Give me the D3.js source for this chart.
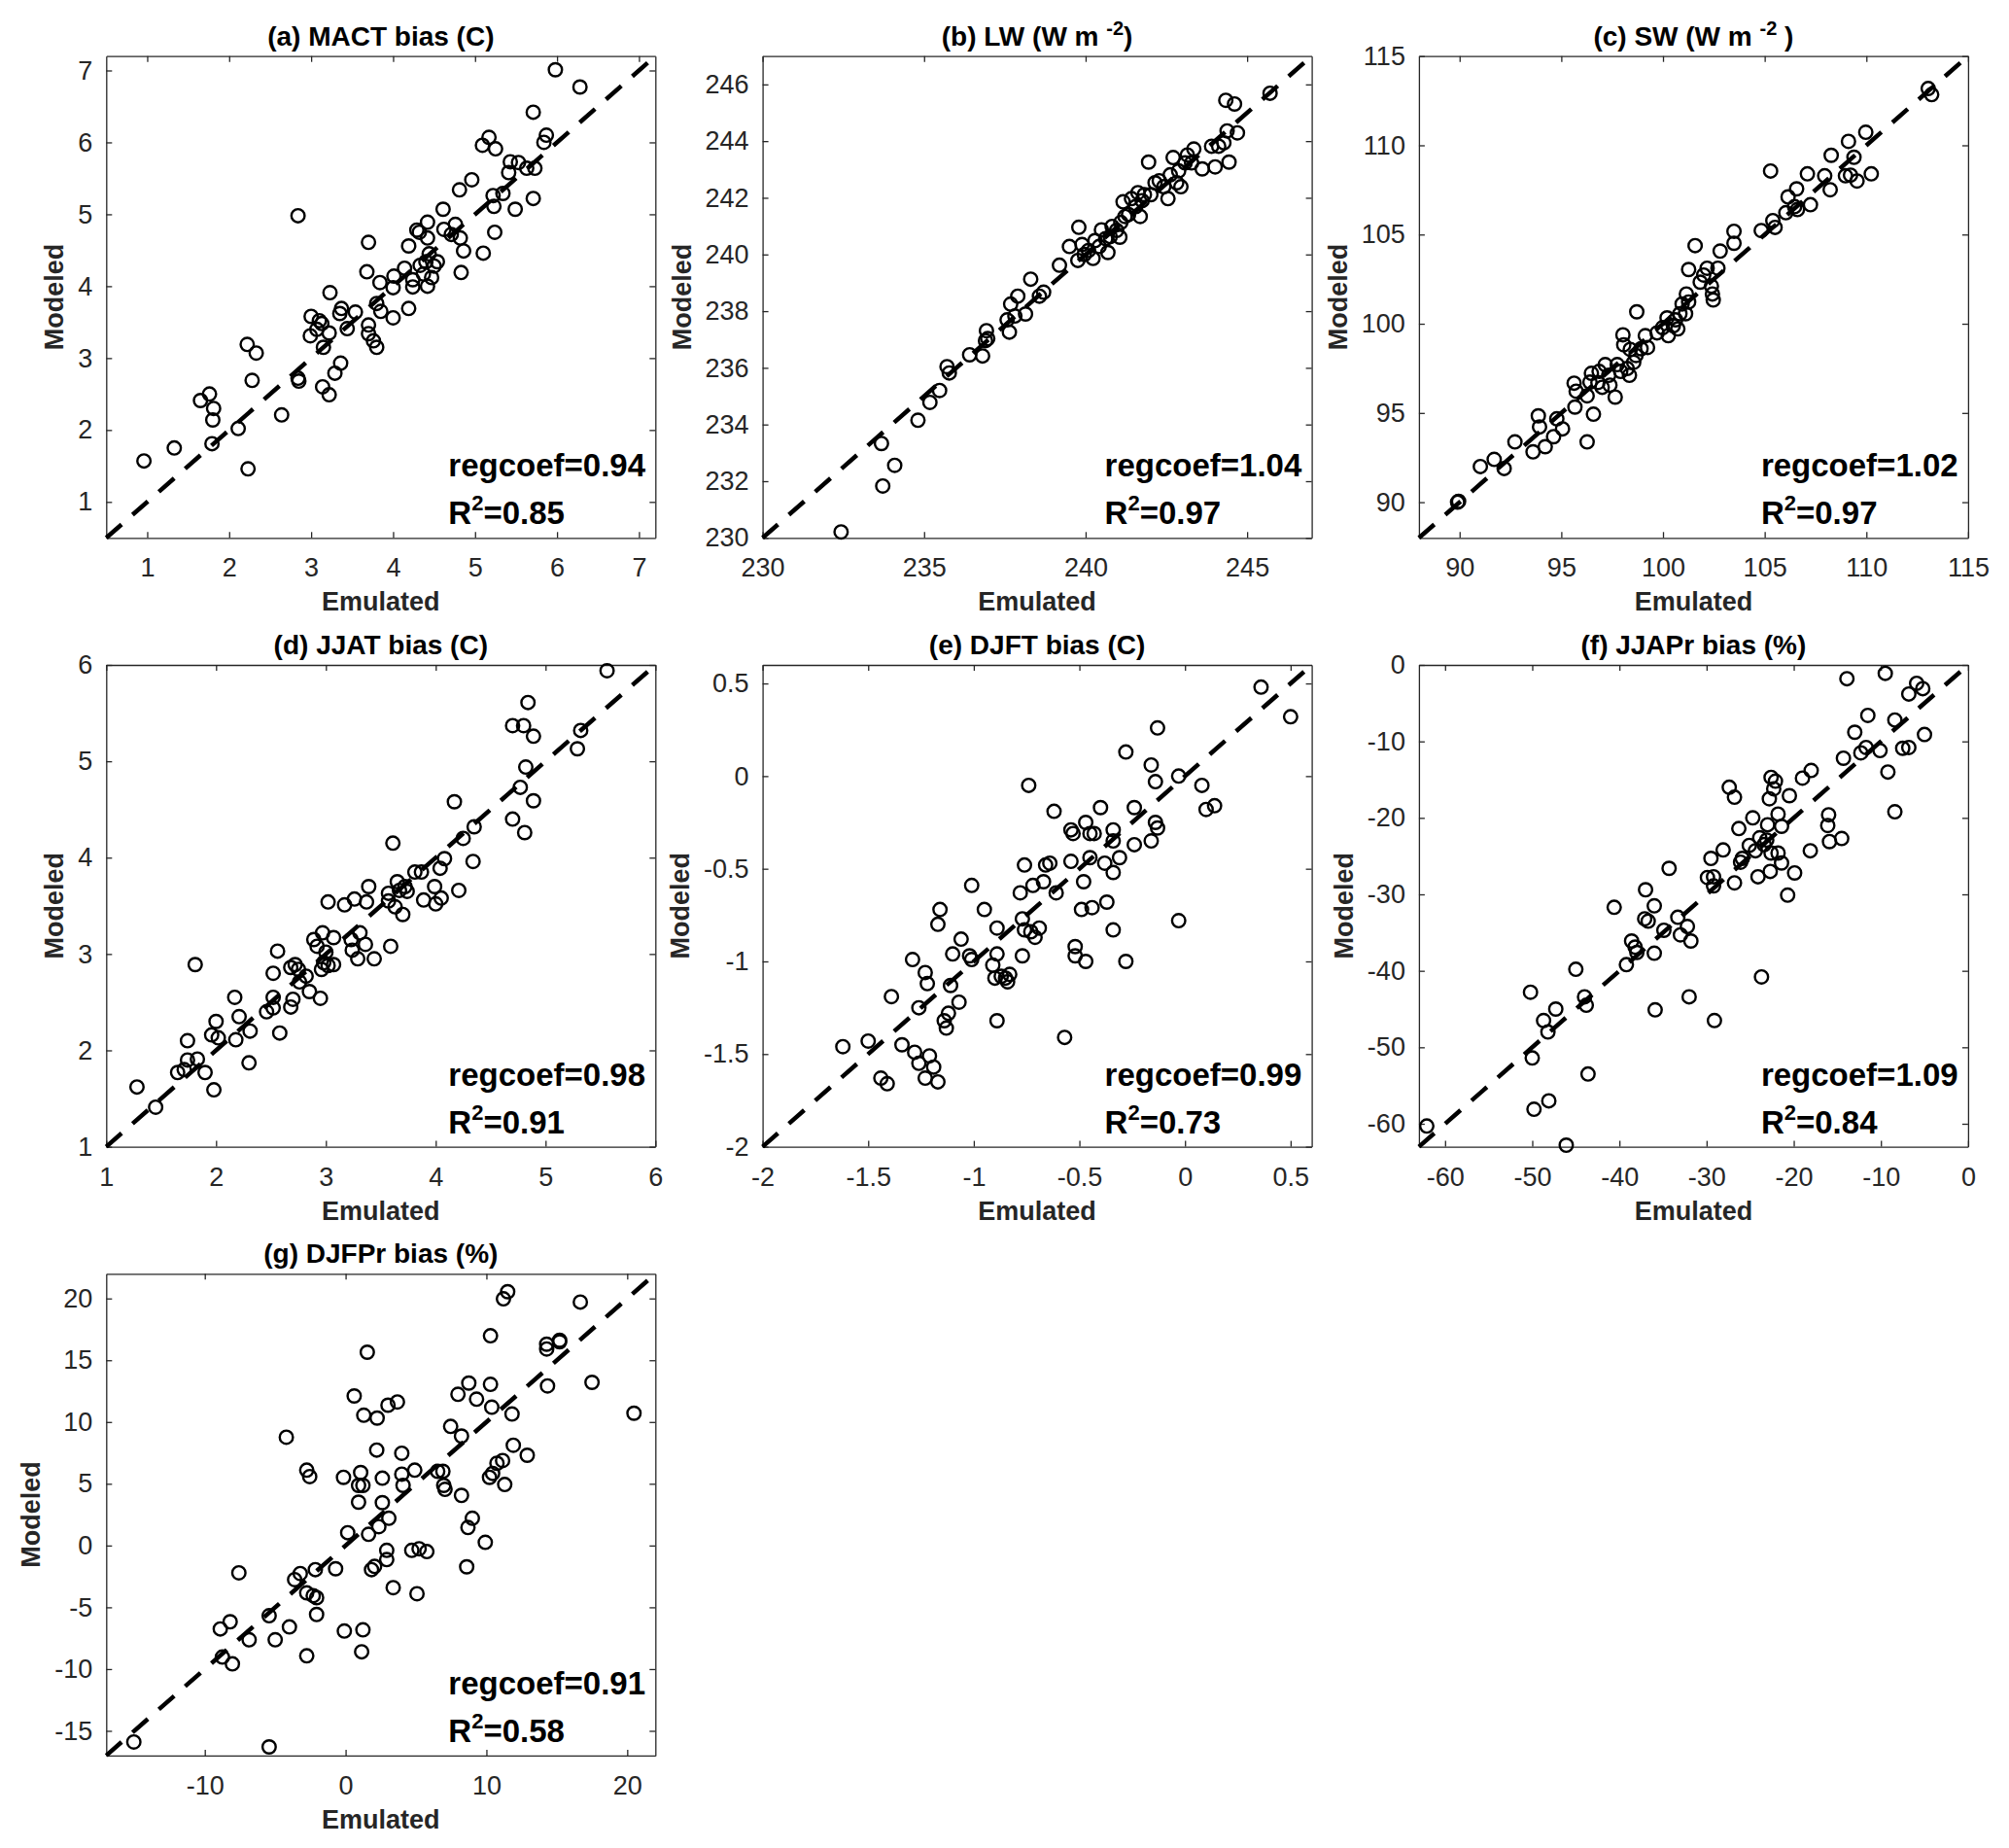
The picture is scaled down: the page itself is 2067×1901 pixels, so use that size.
<!DOCTYPE html>
<html>
<head>
<meta charset="utf-8">
<script src="https://cdn.jsdelivr.net/npm/d3@7"></script>
<style>
body { margin: 0; background: #fff; }
svg { display: block; font-family: "Liberation Sans", Arial, sans-serif; }
</style>
</head>
<body>
<svg id="fig" width="2067" height="1901"></svg>
<script>
// [emulated, modeled] pairs
var macts = [[0.96,1.57],[1.33,1.75],[1.65,2.41],[1.76,2.50],[1.81,2.30],[1.80,2.14],[1.79,1.81],[2.11,2.02],[2.23,1.46],[2.22,3.19],[2.33,3.07],[2.28,2.69],[2.64,2.21],[2.84,2.72],[2.85,2.68],[2.84,4.98],[3.00,3.58],[2.99,3.31],[3.10,3.52],[3.13,3.48],[3.07,3.40],[3.15,3.15],[3.22,3.35],[3.14,2.60],[3.22,2.49],[3.29,2.79],[3.36,2.93],[3.23,3.91],[3.37,3.69],[3.35,3.62],[3.54,3.64],[3.44,3.41],[3.70,4.61],[3.68,4.20],[3.70,3.46],[3.70,3.34],[3.76,3.24],[3.80,3.15],[3.80,3.76],[3.85,3.65],[3.84,4.05],[4.00,3.98],[4.00,3.56],[4.01,4.14],[4.19,4.56],[4.19,3.69],[4.14,4.25],[4.24,4.09],[4.24,3.99],[4.32,4.75],[4.29,4.78],[4.33,4.29],[4.40,4.34],[4.42,4.89],[4.42,4.67],[4.44,4.45],[4.37,4.17],[4.42,4.00],[4.50,4.28],[4.47,4.12],[4.54,4.34],[4.61,5.07],[4.62,4.79],[4.71,4.72],[4.76,4.86],[4.81,5.34],[4.82,4.67],[4.86,4.49],[4.83,4.19],[5.10,4.46],[4.96,5.48],[5.09,5.96],[5.17,6.07],[5.25,5.91],[5.22,5.26],[5.23,5.11],[5.24,4.75],[5.34,5.29],[5.41,5.58],[5.43,5.73],[5.53,5.72],[5.49,5.07],[5.63,5.64],[5.71,6.42],[5.73,5.64],[5.71,5.22],[5.84,6.00],[5.87,6.10],[5.98,7.01],[6.28,6.77]];

var lw = [[232.43,230.21],[233.68,233.33],[233.72,231.83],[234.09,232.56],[234.81,234.15],[235.18,234.78],[235.48,235.20],[235.71,236.04],[235.78,235.82],[236.41,236.46],[236.81,236.42],[236.93,237.31],[236.90,236.96],[236.97,237.03],[237.57,237.69],[237.64,237.26],[237.68,238.25],[237.90,238.53],[237.81,237.83],[238.14,237.90],[238.30,239.13],[238.57,238.53],[238.70,238.67],[239.19,239.62],[239.50,240.28],[239.79,240.96],[239.76,239.79],[239.89,240.35],[239.96,240.00],[240.09,240.14],[240.23,239.86],[240.29,240.49],[240.42,240.28],[240.49,240.87],[240.62,240.56],[240.69,240.07],[240.76,240.63],[240.82,240.99],[240.96,240.85],[241.06,240.61],[241.09,241.13],[241.16,241.86],[241.22,241.34],[241.33,241.41],[241.42,241.97],[241.55,241.69],[241.69,241.34],[241.75,241.90],[241.82,242.11],[241.95,243.26],[242.02,242.11],[241.62,242.18],[242.15,242.53],[242.28,242.60],[242.42,242.39],[242.55,241.97],[242.62,242.81],[242.71,243.42],[242.82,242.53],[242.88,242.95],[242.95,242.39],[243.08,243.23],[243.15,243.51],[243.35,243.72],[243.28,243.23],[243.61,243.02],[243.90,243.82],[244.01,243.09],[244.12,243.82],[244.28,243.94],[244.38,244.36],[244.44,243.26],[244.34,245.44],[244.61,245.31],[244.70,244.29],[245.71,245.69]];

var sw = [[89.9,90.0],[89.95,90.05],[91.02,92.0],[91.70,92.4],[92.19,91.89],[92.72,93.38],[93.61,92.82],[93.87,94.84],[93.93,94.22],[94.21,93.11],[94.62,93.67],[94.78,94.67],[95.06,94.11],[95.63,96.67],[95.67,95.33],[95.73,96.22],[96.27,93.38],[96.27,95.96],[96.41,96.73],[96.48,97.22],[96.58,94.93],[96.80,96.71],[96.86,97.33],[97.01,96.44],[97.16,97.71],[97.33,97.11],[97.39,96.56],[97.65,95.89],[97.75,97.71],[97.92,97.33],[98.03,99.38],[98.07,98.82],[98.24,97.49],[98.35,97.11],[98.39,98.56],[98.56,97.84],[98.67,98.22],[98.71,100.67],[98.92,98.60],[99.13,99.33],[99.24,98.67],[99.71,99.49],[99.98,99.78],[100.20,100.33],[100.26,99.33],[100.51,99.89],[100.62,100.22],[100.73,99.71],[100.83,100.56],[100.94,101.11],[101.11,100.56],[101.15,101.67],[101.26,101.22],[101.26,103.04],[101.58,104.38],[101.83,102.33],[102.00,102.73],[102.17,103.11],[102.38,102.11],[102.43,101.67],[102.47,101.33],[102.70,103.11],[102.81,104.07],[103.49,104.51],[103.49,105.18],[104.83,105.22],[105.29,108.56],[105.40,105.78],[105.51,105.40],[106.04,106.22],[106.15,107.11],[106.47,106.56],[106.57,107.56],[106.61,106.40],[107.10,108.40],[107.25,106.67],[107.95,108.29],[108.22,107.51],[108.27,109.44],[108.97,108.29],[109.12,110.22],[109.22,108.33],[109.39,109.33],[109.54,108.00],[109.97,110.73],[110.24,108.40],[113.04,113.18],[113.21,112.84]];

var jjat = [[1.28,1.62],[1.45,1.41],[1.65,1.77],[1.71,1.80],[1.74,1.90],[1.74,2.10],[1.83,1.91],[1.81,2.89],[1.90,1.77],[1.96,2.16],[1.98,1.59],[2.00,2.30],[2.02,2.13],[2.17,2.55],[2.18,2.11],[2.21,2.35],[2.30,1.87],[2.31,2.20],[2.46,2.40],[2.52,2.44],[2.52,2.55],[2.52,2.80],[2.56,3.03],[2.58,2.18],[2.68,2.45],[2.70,2.53],[2.68,2.86],[2.72,2.89],[2.75,2.84],[2.76,2.71],[2.82,2.77],[2.85,2.61],[2.89,3.15],[2.92,3.08],[2.95,2.54],[2.96,2.84],[2.97,3.22],[2.98,2.91],[3.00,3.02],[3.02,3.54],[3.02,2.88],[3.07,2.89],[3.07,3.17],[3.17,3.51],[3.23,3.15],[3.24,3.04],[3.26,3.57],[3.29,2.95],[3.31,3.22],[3.36,3.10],[3.37,3.54],[3.39,3.70],[3.44,2.95],[3.57,3.63],[3.57,3.55],[3.59,3.08],[3.61,4.15],[3.63,3.49],[3.65,3.75],[3.70,3.41],[3.67,3.66],[3.72,3.70],[3.74,3.65],[3.81,3.85],[3.87,3.85],[3.89,3.56],[3.99,3.70],[4.00,3.52],[4.05,3.58],[4.04,3.89],[4.08,3.99],[4.21,3.66],[4.17,4.58],[4.25,4.20],[4.35,4.32],[4.34,3.96],[4.70,5.37],[4.80,5.37],[4.84,5.61],[4.89,5.26],[4.82,4.94],[4.77,4.73],[4.89,4.59],[4.70,4.40],[4.81,4.26],[5.29,5.13],[5.32,5.32],[5.56,5.94]];

var djft = [[-1.62,-1.46],[-1.50,-1.43],[-1.44,-1.63],[-1.41,-1.66],[-1.39,-1.19],[-1.34,-1.45],[-1.29,-0.99],[-1.28,-1.49],[-1.26,-1.55],[-1.26,-1.25],[-1.23,-1.06],[-1.22,-1.12],[-1.23,-1.63],[-1.21,-1.51],[-1.19,-1.57],[-1.17,-1.65],[-1.16,-0.72],[-1.17,-0.80],[-1.14,-1.32],[-1.13,-1.36],[-1.12,-1.28],[-1.11,-1.13],[-1.10,-0.96],[-1.07,-1.22],[-1.06,-0.88],[-1.02,-0.97],[-1.01,-0.59],[-1.01,-0.99],[-0.95,-0.72],[-0.91,-1.02],[-0.90,-1.09],[-0.89,-0.82],[-0.89,-0.96],[-0.89,-1.32],[-0.87,-1.08],[-0.85,-1.09],[-0.83,-1.07],[-0.84,-1.11],[-0.78,-0.63],[-0.77,-0.77],[-0.76,-0.48],[-0.76,-0.83],[-0.77,-0.97],[-0.74,-0.05],[-0.73,-0.84],[-0.71,-0.87],[-0.72,-0.59],[-0.69,-0.82],[-0.67,-0.57],[-0.66,-0.48],[-0.64,-0.47],[-0.62,-0.19],[-0.61,-0.63],[-0.57,-1.41],[-0.54,-0.29],[-0.53,-0.31],[-0.54,-0.46],[-0.52,-0.92],[-0.52,-0.97],[-0.49,-0.72],[-0.48,-0.57],[-0.47,-0.25],[-0.47,-1.00],[-0.45,-0.31],[-0.45,-0.44],[-0.44,-0.71],[-0.43,-0.31],[-0.40,-0.17],[-0.38,-0.47],[-0.37,-0.68],[-0.34,-0.29],[-0.34,-0.35],[-0.34,-0.52],[-0.34,-0.83],[-0.31,-0.44],[-0.28,0.13],[-0.28,-1.00],[-0.24,-0.17],[-0.24,-0.37],[-0.16,0.06],[-0.16,-0.35],[-0.14,-0.25],[-0.14,-0.03],[-0.13,-0.28],[-0.13,0.26],[-0.03,-0.78],[-0.03,0.00],[0.08,-0.05],[0.10,-0.18],[0.14,-0.16],[0.36,0.48],[0.50,0.32]];

var jjapr = [[-62.1,-60.3],[-50.2,-42.8],[-50.0,-51.4],[-49.8,-58.1],[-48.7,-46.5],[-48.2,-48.0],[-48.1,-57.0],[-47.3,-45.0],[-46.1,-62.8],[-45.0,-39.8],[-44.0,-43.4],[-43.8,-44.5],[-43.6,-53.5],[-40.6,-31.7],[-39.2,-39.2],[-38.6,-36.1],[-38.2,-36.9],[-38.0,-37.6],[-37.0,-29.4],[-37.1,-33.2],[-36.7,-33.5],[-36.0,-31.5],[-36.0,-37.7],[-35.9,-45.1],[-34.9,-34.7],[-34.3,-26.6],[-33.3,-33.0],[-33.0,-35.3],[-32.2,-34.2],[-31.8,-36.1],[-32.0,-43.4],[-29.5,-25.3],[-29.9,-27.8],[-29.2,-27.7],[-29.2,-28.9],[-29.1,-46.5],[-28.1,-24.2],[-27.4,-16.0],[-26.8,-17.3],[-26.3,-21.4],[-26.8,-28.5],[-25.9,-25.3],[-26.1,-25.8],[-24.7,-20.0],[-25.1,-23.6],[-24.4,-24.3],[-23.9,-22.6],[-24.1,-27.7],[-23.7,-40.8],[-23.4,-23.5],[-23.1,-22.9],[-23.0,-20.9],[-22.8,-17.5],[-22.7,-27.0],[-22.6,-14.7],[-22.3,-16.2],[-22.1,-15.2],[-22.6,-24.6],[-21.8,-24.6],[-21.8,-19.5],[-21.4,-21.1],[-21.4,-25.9],[-20.5,-17.1],[-19.9,-27.2],[-20.7,-30.1],[-19.0,-14.8],[-18.0,-13.8],[-18.1,-24.3],[-16.0,-19.6],[-16.1,-21.0],[-15.9,-23.1],[-14.5,-22.7],[-14.3,-12.2],[-13.9,-1.8],[-13.0,-8.8],[-12.3,-11.5],[-11.7,-10.8],[-11.5,-6.6],[-10.1,-11.2],[-9.5,-1.1],[-9.2,-14.0],[-8.4,-7.2],[-8.4,-19.2],[-7.5,-10.9],[-6.8,-10.8],[-6.8,-3.8],[-5.9,-2.4],[-5.2,-3.1],[-5.0,-9.1]];

var djfpr = [[-15.04,-15.9],[-5.43,-16.3],[-8.90,-6.75],[-8.20,-6.17],[-8.75,-9.03],[-8.04,-9.58],[-7.58,-2.21],[-6.85,-7.63],[-5.43,-5.68],[-5.00,-7.63],[-4.21,8.77],[-3.99,-6.59],[-3.62,-2.76],[-3.22,-2.27],[-2.76,6.10],[-2.55,5.58],[-2.76,-3.83],[-2.76,-8.93],[-2.30,-4.06],[-2.15,-1.95],[-2.06,-4.22],[-2.06,-5.58],[-0.71,-1.88],[-0.15,5.52],[-0.09,-6.92],[0.15,1.04],[0.61,12.11],[0.92,4.87],[0.92,3.51],[1.07,5.91],[1.23,4.87],[1.29,10.55],[1.23,-6.82],[1.14,-8.60],[1.54,15.65],[1.63,0.91],[1.84,-1.95],[2.06,-1.69],[2.21,7.73],[2.24,10.32],[2.36,1.53],[2.61,5.45],[2.61,3.47],[3.07,2.21],[2.92,-0.39],[2.92,-1.14],[3.01,11.36],[3.38,-3.41],[3.68,11.62],[3.99,7.47],[3.99,5.78],[4.08,4.87],[4.70,-0.39],[4.91,6.10],[5.22,-0.26],[5.07,-3.90],[5.77,-0.49],[6.54,6.01],[6.91,6.01],[6.97,4.87],[7.06,4.55],[7.46,9.64],[7.98,12.24],[8.23,8.86],[8.23,4.06],[8.75,13.15],[8.69,1.46],[9.00,2.21],[8.60,-1.72],[9.30,11.85],[9.92,0.26],[10.29,16.98],[10.29,13.05],[10.38,11.20],[10.22,5.52],[10.44,5.84],[10.75,6.66],[11.15,6.88],[11.21,19.97],[11.51,20.55],[11.30,4.94],[11.82,10.65],[11.91,8.12],[12.90,7.31],[14.28,16.30],[14.28,15.91],[14.34,12.92],[15.20,16.62],[15.20,16.49],[16.67,19.71],[17.50,13.21],[20.48,10.71]];

var panelSeries = [macts, lw, sw, jjat, djft, jjapr, djfpr];
var letters = ["(a)", "(b)", "(c)", "(d)", "(e)", "(f)", "(g)"];
var names = ["MACT bias (C)", "LW (W m ", "SW (W m ", "JJAT bias (C)", "DJFT bias (C)", "JJAPr bias (%)", "DJFPr bias (%)"];
var regcoefs = ["0.94", "1.04", "1.02", "0.98", "0.99", "1.09", "0.91"];
var r2s = ["0.85", "0.97", "0.97", "0.91", "0.73", "0.84", "0.58"];
var limits = [[0.5, 7.2], [230, 247], [88, 115], [1, 6], [-2, 0.6], [-63, 0], [-17, 22]];
var xTicks = [[1,2,3,4,5,6,7], [230,235,240,245], [90,95,100,105,110,115], [1,2,3,4,5,6], [-2,-1.5,-1,-0.5,0,0.5], [-60,-50,-40,-30,-20,-10,0], [-10,0,10,20]];
var yTicks = [[1,2,3,4,5,6,7], [230,232,234,236,238,240,242,244,246], [90,95,100,105,110,115], [1,2,3,4,5,6], [-2,-1.5,-1,-0.5,0,0.5], [-60,-50,-40,-30,-20,-10,0], [-15,-10,-5,0,5,10,15,20]];

var svg = d3.select("#fig");
svg.append("rect").attr("width", 2067).attr("height", 1901).attr("fill", "#fff");

var pw = 565, ph = 495.6;
var left0 = 109.3, colStep = 675.3;
var top0 = 57.7, rowStep = 626.3;
var axisColor = "#262626";

panelSeries.forEach(function (pts, i) {
    var col = i % 3, row = Math.floor(i / 3);
    var g = svg.append("g")
        .attr("transform", "translate(" + (left0 + col * colStep) + "," + (top0 + row * rowStep) + ")");

    var x = d3.scaleLinear().domain(limits[i]).range([0, pw]);
    var y = d3.scaleLinear().domain(limits[i]).range([ph, 0]);
    var fmt = function (d) { return String(d); };

    // axes, ticks pointing inward on all 4 sides
    g.append("g").attr("transform", "translate(0," + ph + ")")
        .call(d3.axisBottom(x).tickValues(xTicks[i]).tickFormat(fmt).tickSizeInner(-6).tickSizeOuter(0).tickPadding(21));
    var yl = g.append("g")
        .call(d3.axisLeft(y).tickValues(yTicks[i]).tickFormat(fmt).tickSizeInner(-6).tickSizeOuter(0).tickPadding(14));
    g.append("g")
        .call(d3.axisTop(x).tickValues(xTicks[i]).tickFormat("").tickSizeInner(-6).tickSizeOuter(0));
    g.append("g").attr("transform", "translate(" + pw + ",0)")
        .call(d3.axisRight(y).tickValues(yTicks[i]).tickFormat("").tickSizeInner(-6).tickSizeOuter(0));

    g.selectAll(".domain").attr("stroke", axisColor).attr("stroke-width", 1.3);
    g.selectAll(".tick line").attr("stroke", axisColor).attr("stroke-width", 1.3);
    g.selectAll(".tick text")
        .attr("fill", axisColor)
        .attr("font-size", 27)
        .attr("font-family", "Liberation Sans, Arial, sans-serif");

    // 1:1 reference line
    g.append("line")
        .attr("x1", x(limits[i][0])).attr("y1", y(limits[i][0]))
        .attr("x2", x(limits[i][1])).attr("y2", y(limits[i][1]))
        .attr("stroke", "#000")
        .attr("stroke-width", 4.5)
        .attr("stroke-dasharray", "21 15");

    // points
    g.append("g").selectAll("circle")
        .data(pts)
        .enter()
        .append("circle")
        .attr("cx", function (d) { return x(d[0]); })
        .attr("cy", function (d) { return y(d[1]); })
        .attr("r", 6.8)
        .attr("fill", "none")
        .attr("stroke", "#000")
        .attr("stroke-width", 2.4);

    // title
    var t = g.append("text")
        .attr("x", pw / 2)
        .attr("y", -11)
        .attr("text-anchor", "middle")
        .attr("font-size", 28)
        .attr("font-weight", "bold")
        .attr("fill", "#000");
    if (i === 1 || i === 2) {
        t.append("tspan").text(letters[i] + " " + names[i]);
        t.append("tspan").attr("dy", -11).attr("font-size", 20).text("-2");
        t.append("tspan").attr("dy", 11).text(i === 2 ? " )" : ")");
    } else {
        t.text(letters[i] + " " + names[i]);
    }

    // axis labels
    g.append("text")
        .attr("x", pw / 2)
        .attr("y", ph + 75)
        .attr("text-anchor", "middle")
        .attr("font-size", 27)
        .attr("font-weight", "bold")
        .attr("fill", axisColor)
        .text("Emulated");

    var minX = 0;
    yl.selectAll("text").each(function () {
        minX = Math.min(minX, this.getBBox().x);
    });
    g.append("text")
        .attr("transform", "translate(" + (minX - 15) + "," + (ph / 2) + ") rotate(-90)")
        .attr("text-anchor", "middle")
        .attr("font-size", 27)
        .attr("font-weight", "bold")
        .attr("fill", axisColor)
        .text("Modeled");

    // stats
    g.append("text")
        .attr("x", 352)
        .attr("y", ph - 63)
        .attr("font-size", 33)
        .attr("font-weight", "bold")
        .attr("fill", "#000")
        .text("regcoef=" + regcoefs[i]);
    var r = g.append("text")
        .attr("x", 352)
        .attr("y", ph - 14)
        .attr("font-size", 33)
        .attr("font-weight", "bold")
        .attr("fill", "#000");
    r.append("tspan").text("R");
    r.append("tspan").attr("dy", -14).attr("font-size", 22).text("2");
    r.append("tspan").attr("dy", 14).text("=" + r2s[i]);
});
</script>
</body>
</html>
